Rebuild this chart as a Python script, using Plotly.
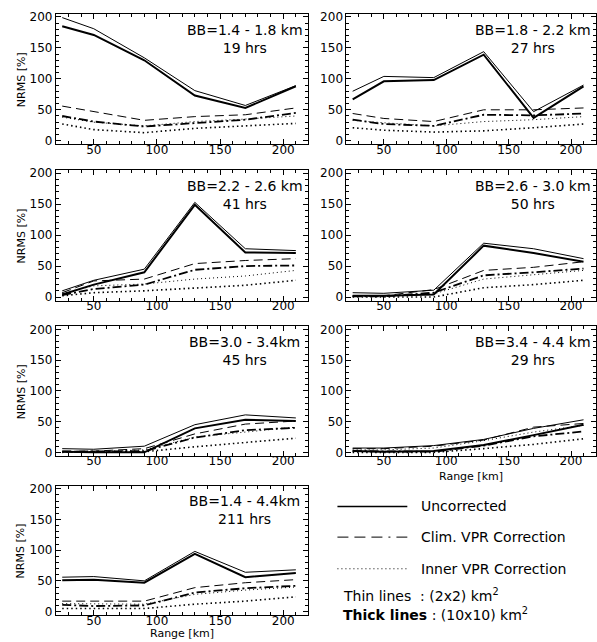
import plotly.graph_objects as go

# ---------------- data ----------------
RANGE_KM = [25, 50, 90, 130, 170, 210]

PANEL_TITLES = ["BB=1.4 - 1.8 km", "BB=1.8 - 2.2 km", "BB=2.2 - 2.6 km", "BB=2.6 - 3.0 km",
                "BB=3.0 - 3.4km", "BB=3.4 - 4.4 km", "BB=1.4 - 4.4km"]
PANEL_HOURS = ["19 hrs", "27 hrs", "41 hrs", "50 hrs", "45 hrs", "29 hrs", "211 hrs"]

# Uncorrected, thin lines (2x2 km2)
UNC_THIN = [
    [199, 181, 134, 81, 57, 89],
    [80, 104, 102, 144, 47, 90],
    [10, 27, 45, 153, 78, 75],
    [7, 6, 11, 87, 78, 62],
    [6, 5, 10, 45, 61, 56],
    [7, 7, 11, 21, 39, 53],
    [56, 57, 50, 98, 64, 68],
]
# Uncorrected, thick lines (10x10 km2)
UNC_THICK = [
    [185, 171, 130, 73, 53, 88],
    [67, 96, 98, 139, 37, 88],
    [4, 20, 40, 149, 72, 71],
    [2, 2, 4, 83, 71, 57],
    [1, 0, 0, 39, 53, 51],
    [2, 1, 2, 12, 28, 45],
    [51, 52, 47, 94, 56, 63],
]
# Clim. VPR correction, thin
CLIM_THIN = [
    [56, 47, 33, 39, 42, 53],
    [44, 36, 31, 50, 50, 53],
    [7, 26, 29, 54, 59, 62],
    [2, 2, 12, 43, 48, 57],
    [2, 2, 6, 30, 46, 51],
    [6, 6, 10, 20, 41, 47],
    [17, 17, 17, 39, 47, 52],
]
# Clim. VPR correction, thick
CLIM_THICK = [
    [40, 31, 23, 29, 34, 45],
    [34, 27, 24, 42, 41, 44],
    [3, 13, 20, 44, 50, 51],
    [1, 1, 7, 35, 40, 46],
    [1, 1, 2, 24, 36, 40],
    [2, 2, 1, 11, 26, 34],
    [11, 9, 10, 31, 38, 42],
]
# Inner VPR correction, thin
INNER_THIN = [
    [38, 30, 24, 31, 35, 40],
    [33, 29, 24, 31, 34, 39],
    [6, 18, 21, 29, 34, 43],
    [1, 1, 5, 29, 36, 43],
    [1, 1, 4, 25, 33, 41],
    [4, 4, 7, 19, 33, 44],
    [13, 13, 12, 28, 35, 40],
]
# Inner VPR correction, thick
INNER_THICK = [
    [27, 18, 13, 20, 24, 28],
    [21, 17, 14, 16, 21, 27],
    [2, 7, 10, 15, 19, 27],
    [0, 0, 0, 15, 20, 27],
    [0, 0, 1, 9, 16, 23],
    [0, 0, 0, 6, 13, 22],
    [5, 5, 5, 12, 17, 24],
]

LEGEND_LABELS = ["Uncorrected", "Clim. VPR Correction", "Inner VPR Correction"]

# ---------------- layout helpers ----------------
W, H = 597, 642
COL_X = [(56, 309), (347, 597)]
ROW_Y = [(10, 142), (168, 300), (326, 457), (487, 618)]
FONT = "DejaVu Sans"

STYLES = [
    (UNC_THIN, dict(color="black", width=1, dash="solid")),
    (UNC_THICK, dict(color="black", width=2, dash="solid")),
    (CLIM_THIN, dict(color="black", width=1, dash="9px,5px")),
    (CLIM_THICK, dict(color="black", width=1.8, dash="9px,3px,2px,3px")),
    (INNER_THIN, dict(color="black", width=1, dash="1px,3px")),
    (INNER_THICK, dict(color="black", width=1.6, dash="1.5px,3px")),
]

fig = go.Figure()
annotations = []
shapes = []

for i in range(7):
    k = i + 1
    row, col = i // 2, i % 2
    xs = "x" if k == 1 else f"x{k}"
    ys = "y" if k == 1 else f"y{k}"
    x0, x1 = COL_X[col]
    y0, y1 = ROW_Y[row]
    xdom = [x0 / W, x1 / W]
    ydom = [1 - y1 / H, 1 - y0 / H]
    for series, line in STYLES:
        fig.add_trace(go.Scatter(x=RANGE_KM, y=series[i], mode="lines", line=line,
                                 xaxis=xs, yaxis=ys, showlegend=False, hoverinfo="skip"))
    common = dict(showline=True, linecolor="black", linewidth=1, mirror="allticks",
                  ticks="inside", ticklen=5, tickwidth=1, tickcolor="black",
                  showgrid=False, zeroline=False,
                  tickfont=dict(family=FONT, size=12, color="black"))
    fig.layout[f"xaxis{k if k > 1 else ''}"] = dict(
        domain=xdom, anchor=ys, range=[20, 220], tickvals=[50, 100, 150, 200],
        ticklabelstandoff=-6,
        minor=dict(ticks="inside", ticklen=3, dtick=10, tick0=0, tickcolor="black", showgrid=False),
        **common)
    fig.layout[f"yaxis{k if k > 1 else ''}"] = dict(
        domain=ydom, anchor=xs, range=[-6, 205], tickvals=[0, 50, 100, 150, 200],
        minor=dict(ticks="inside", ticklen=3, dtick=10, tick0=0, tickcolor="black", showgrid=False),
        **common)
    annotations.append(dict(
        text=f"{PANEL_TITLES[i]}<br>{PANEL_HOURS[i]}", xref=f"{xs} domain", yref=f"{ys} domain",
        x=0.747, y=1 - 25 / (y1 - y0), xanchor="center", yanchor="middle", showarrow=False,
        font=dict(family=FONT, size=14, color="black")))
    if col == 0:
        annotations.append(dict(
            text="NRMS [%]", xref="paper", yref="paper", x=21 / W, y=1 - (y0 + y1) / 2 / H,
            textangle=-90, showarrow=False, xanchor="center", yanchor="middle",
            font=dict(family=FONT, size=11, color="black")))

# x-axis titles
for cx, cy in [(472, 478), (182, 636)]:
    annotations.append(dict(text="Range [km]", xref="paper", yref="paper", x=cx / W, y=1 - cy / H,
                            showarrow=False, xanchor="center", yanchor="middle",
                            font=dict(family=FONT, size=11, color="black")))

# legend (drawn in the empty bottom-right slot)
leg_y = [508, 539, 571]
leg_dash = ["solid", "11px,6px,11px,6px,11px,6px,2px,6px", "1px,3px"]
for lbl, ly, dsh in zip(LEGEND_LABELS, leg_y, leg_dash):
    shapes.append(dict(type="line", xref="paper", yref="paper", x0=338 / W, x1=408 / W,
                       y0=1 - ly / H, y1=1 - ly / H,
                       line=dict(color="black", width=1.5 if dsh == "solid" else 1, dash=dsh)))
    annotations.append(dict(text=lbl, xref="paper", yref="paper", x=420 / W, y=1 - ly / H,
                            showarrow=False, xanchor="left", yanchor="middle",
                            font=dict(family=FONT, size=14, color="black")))
annotations.append(dict(text="Thin lines  : (2x2) km<sup>2</sup>", xref="paper", yref="paper",
                        x=342 / W, y=1 - 598 / H, showarrow=False, xanchor="left", yanchor="middle",
                        font=dict(family=FONT, size=14, color="black")))
annotations.append(dict(text="<b>Thick lines</b> : (10x10) km<sup>2</sup>", xref="paper", yref="paper",
                        x=342 / W, y=1 - 617 / H, showarrow=False, xanchor="left", yanchor="middle",
                        font=dict(family=FONT, size=14, color="black")))

fig.update_layout(width=W, height=H, margin=dict(l=0, r=0, t=0, b=0),
                  paper_bgcolor="white", plot_bgcolor="white",
                  annotations=annotations, shapes=shapes, showlegend=False,
                  font=dict(family=FONT, color="black"))

fig.write_html("out.html", config={"displayModeBar": False},
               post_script="document.body.style.margin='0';document.body.style.overflow='hidden';")
